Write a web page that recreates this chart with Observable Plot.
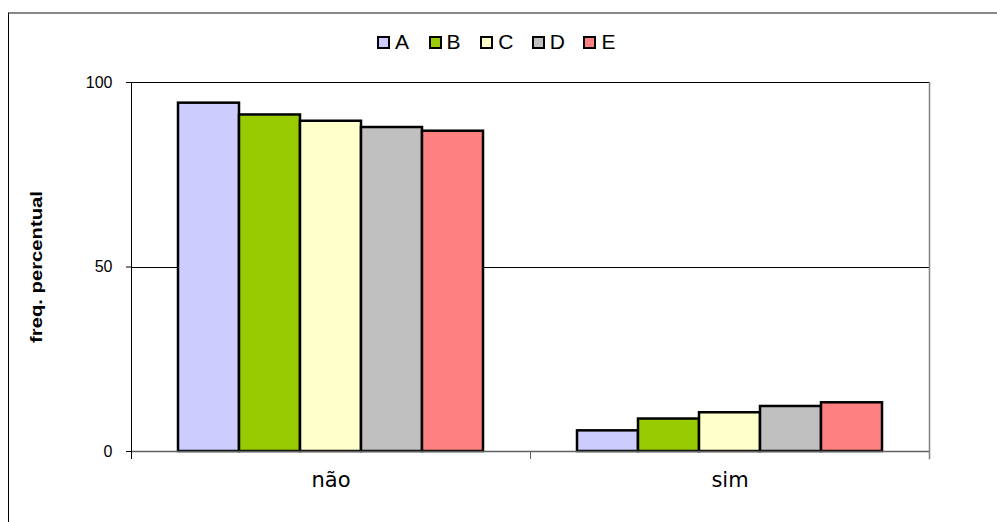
<!DOCTYPE html>
<html><head><meta charset="utf-8">
<script src="https://cdn.jsdelivr.net/npm/d3@7"></script>
<script src="https://cdn.jsdelivr.net/npm/@observablehq/plot@0.6"></script>
<style>
body{margin:0;background:#fff;}
#wrap{position:relative;width:997px;height:522px;overflow:hidden;background:#fff;}
#border{position:absolute;left:8px;top:12px;width:1000px;height:520px;border-top:2px solid #888;border-left:1px solid #000;}
#chart{position:absolute;left:0;top:0;}
#legend{position:absolute;top:31px;left:377px;display:flex;font-family:"Liberation Sans",Arial,sans-serif;font-size:21px;line-height:22px;color:#000;}
.item{display:flex;align-items:center;width:51.6px;}
.sw{width:9px;height:9px;border:2px solid #000;margin-right:5px;}
</style></head><body>
<div id="wrap"><div id="border"></div><div id="chart"></div><div id="legend"></div></div>
<script>
const categories = ["não", "sim"];
const series = ["A", "B", "C", "D", "E"];
const valuesNao = [94.4, 91.2, 89.5, 87.8, 86.8];
const valuesSim = [5.6, 8.8, 10.5, 12.2, 13.2];
const colors = ["#CCCCFF", "#99CC00", "#FFFFCC", "#C0C0C0", "#FF8080"];
const yTicks = [0, 50, 100];
const yLabel = "freq. percentual";

const data = [
  ...series.map((s, i) => ({cat: categories[0], series: s, value: valuesNao[i]})),
  ...series.map((s, i) => ({cat: categories[1], series: s, value: valuesSim[i]}))
];

const chart = Plot.plot({
  width: 997, height: 522,
  marginLeft: 130, marginRight: 68, marginTop: 82, marginBottom: 71,
  style: {background: "transparent", fontFamily: "'Liberation Sans', Arial, sans-serif", color: "#000"},
  fx: {domain: categories, padding: 0, label: null},
  x: {domain: series, paddingInner: 0, paddingOuter: 0.76, axis: null},
  y: {domain: [0, 100], label: null},
  color: {domain: series, range: colors},
  marks: [
    Plot.ruleY([50, 100], {stroke: "#000", strokeWidth: 1, shapeRendering: "crispEdges"}),
    Plot.barY(data, {fx: "cat", x: "series", y: "value", fill: "series", stroke: "#000", strokeWidth: 2.5}),
    Plot.ruleY([0], {stroke: "#606060", strokeWidth: 1.5}),
    Plot.frame({anchor: "left", insetTop: 369, insetBottom: -7, stroke: "#606060"}),
    Plot.frame({anchor: "right", facetAnchor: "right", insetBottom: -7, stroke: "#808080", strokeWidth: 1.5}),
    Plot.frame({anchor: "left", facetAnchor: "left", insetBottom: -7, stroke: "#000"}),
    Plot.axisY({ticks: yTicks, tickSize: 5, tickPadding: 14, fontSize: 16, label: yLabel, labelAnchor: "center", labelOffset: 102}),
    Plot.axisFx({anchor: "bottom", tickSize: 0, tickPadding: 21, fontSize: 21, fontFamily: "'DejaVu Sans', sans-serif", label: null})
  ]
});
document.getElementById("chart").appendChild(chart);

d3.select(chart).selectAll('[aria-label="y-axis label"] text')
  .text(yLabel)
  .attr("font-weight", "bold").attr("font-size", 17)
  .attr("textLength", 152).attr("lengthAdjust", "spacingAndGlyphs");

const legend = d3.select("#legend");
series.forEach((s, i) => {
  const it = legend.append("div").attr("class", "item");
  it.append("div").attr("class", "sw").style("background", colors[i]);
  it.append("span").text(s);
});
</script>
</body></html>
